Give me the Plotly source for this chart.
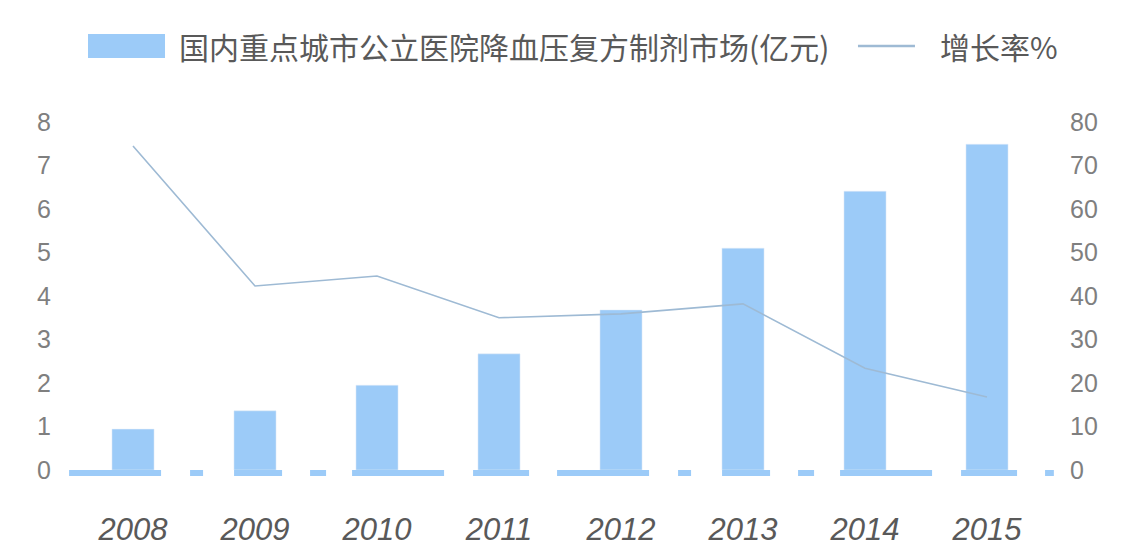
import plotly.graph_objects as go

years = ["2008", "2009", "2010", "2011", "2012", "2013", "2014", "2015"]
market = [0.94, 1.36, 1.95, 2.67, 3.68, 5.10, 6.41, 7.49]
growth = [74.5, 42.3, 44.6, 35.0, 35.9, 38.2, 23.4, 16.8]
left_ticks = [0, 1, 2, 3, 4, 5, 6, 7, 8]
right_ticks = [0, 10, 20, 30, 40, 50, 60, 70, 80]

bar_name = "国内重点城市公立医院降血压复方制剂市场(亿元)"
line_name = "增长率%"

BAR_COLOR = "#9CCBF8"
LINE_COLOR = "#9EBAD4"
tick_font = dict(family="Liberation Sans, Arial, sans-serif", size=25, color="#7F7F7F")
legend_font = dict(family="Noto Sans CJK SC, sans-serif", size=30, color="#595959")

fig = go.Figure()
fig.add_trace(go.Bar(x=years, y=market, name=bar_name, marker_color=BAR_COLOR,
                     width=0.345, yaxis="y"))
fig.add_trace(go.Scatter(x=years, y=growth, name=line_name, mode="lines",
                         line=dict(color=LINE_COLOR, width=1.6), yaxis="y2"))

# dashed baseline decoration at zero
fig.add_shape(type="line", xref="paper", yref="paper", x0=-0.003, x1=1.006,
              y0=-0.0086, y1=-0.0086,
              line=dict(color=BAR_COLOR, width=6,
                        dash="92px,29px,13px,31px,48px,28px,16px,26px,92px,29px,56px,28px"))

# legend drawn manually (large swatches as in the reference)
fig.add_shape(type="rect", xref="paper", yref="paper", x0=0.0164, x1=0.0953,
              y0=1.1839, y1=1.2529, fillcolor=BAR_COLOR, line=dict(width=0))
fig.add_annotation(xref="paper", yref="paper", x=0.1076, y=1.2184, text=bar_name,
                   showarrow=False, xanchor="left", yanchor="middle", font=legend_font)
fig.add_shape(type="line", xref="paper", yref="paper", x0=0.8053, x1=0.8637,
              y0=1.2184, y1=1.2184, line=dict(color=LINE_COLOR, width=2.5))
fig.add_annotation(xref="paper", yref="paper", x=0.887, y=1.2184, text=line_name,
                   showarrow=False, xanchor="left", yanchor="middle", font=legend_font)

fig.update_layout(
    width=1142, height=556,
    margin=dict(l=64, r=102, t=114, b=94),
    paper_bgcolor="white", plot_bgcolor="white",
    showlegend=False,
    xaxis=dict(type="category", showgrid=False, showline=False, zeroline=False,
               ticks="", ticklabelstandoff=38,
               tickfont=dict(family="Liberation Sans, Arial, sans-serif", size=31,
                             color="#595959", style="italic")),
    yaxis=dict(range=[0, 8], tickvals=left_ticks, showgrid=False, showline=False,
               zeroline=False, ticks="", tickfont=tick_font, ticklabelstandoff=20),
    yaxis2=dict(range=[0, 80], tickvals=right_ticks, overlaying="y", side="right",
                showgrid=False, showline=False, zeroline=False,
                ticks="outside", ticklen=16, tickcolor="rgba(0,0,0,0)",
                tickfont=tick_font),
)

fig.write_html("out.html")
